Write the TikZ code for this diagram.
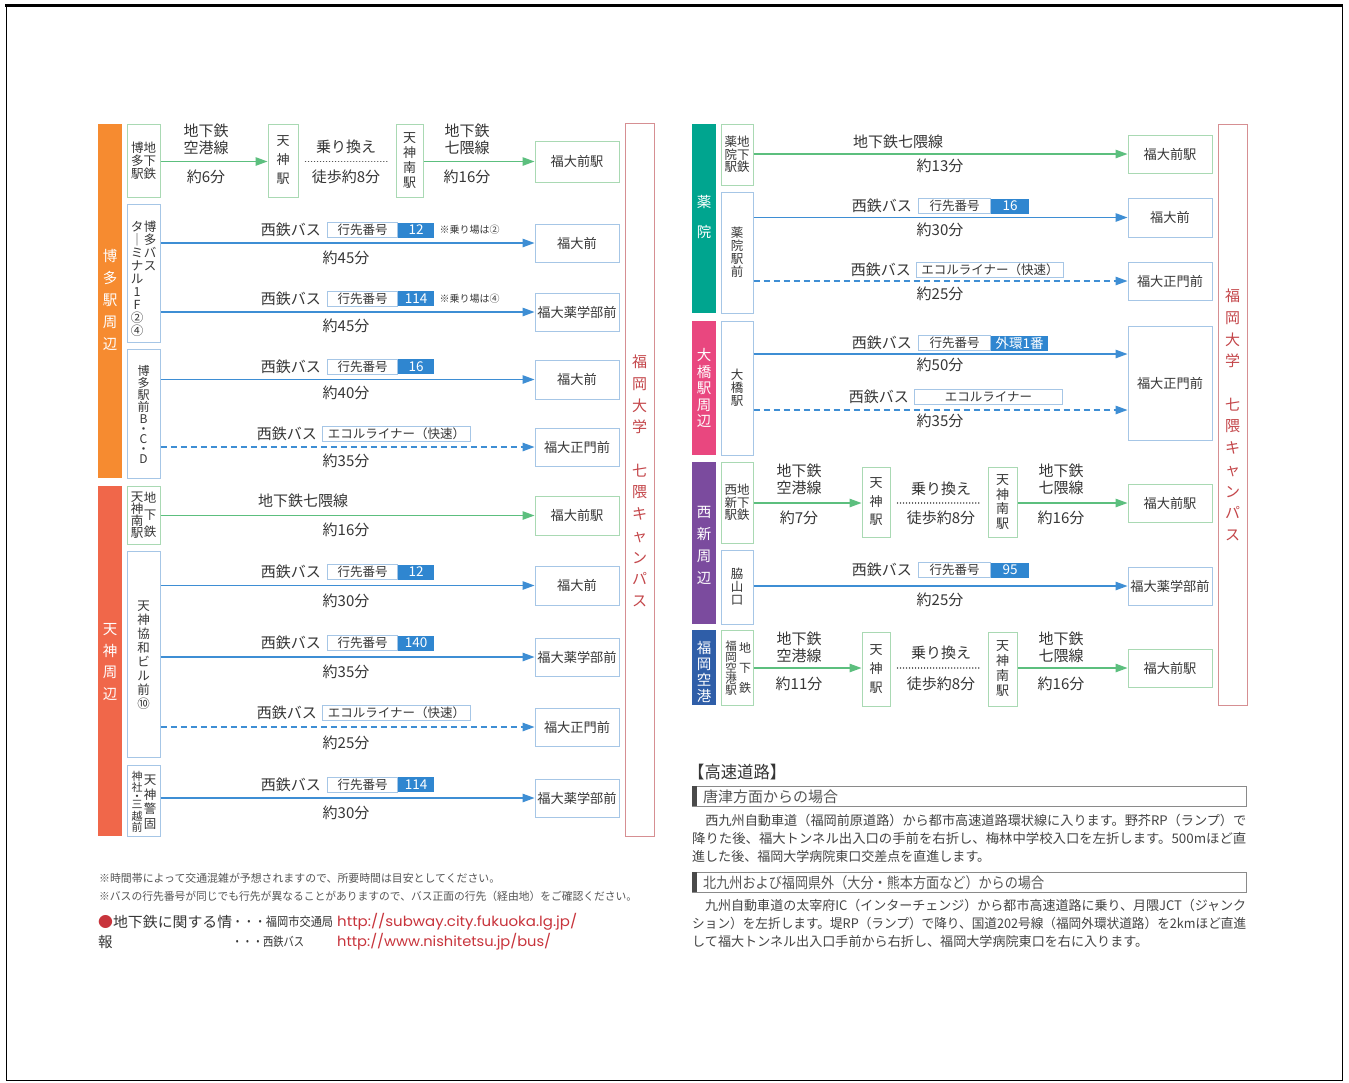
\documentclass[tikz,border=0pt]{standalone}
\usepackage{fontspec}
\usepackage{graphicx}
\setmainfont{Noto Sans CJK JP}
\newfontfamily\urlfont{Poppins}
\usetikzlibrary{arrows.meta,fit,positioning}
\newcommand\fsz[2]{\fontsize{#1}{#2}\selectfont}
\newcommand\fitw[2]{\resizebox{#1pt}{\height}{#2}}
\definecolor{txt}{HTML}{363636}
\definecolor{notegray}{HTML}{555555}
\definecolor{paragray}{HTML}{444444}
\definecolor{lgreen}{HTML}{A9D9B3}
\definecolor{agreen}{HTML}{5CBF7E}
\definecolor{lblue}{HTML}{A6C6E6}
\definecolor{ablue}{HTML}{3E8ED4}
\definecolor{bblue}{HTML}{2F86D0}
\definecolor{campus}{HTML}{D68F92}
\definecolor{campustxt}{HTML}{C4464A}
\definecolor{orangeA}{HTML}{F68B30}
\definecolor{orangeB}{HTML}{F0674A}
\definecolor{tealA}{HTML}{00A58F}
\definecolor{pinkA}{HTML}{E9477F}
\definecolor{purpleA}{HTML}{7B4B9E}
\definecolor{blueA}{HTML}{2F5EA8}
\definecolor{urlred}{HTML}{C8343C}
\definecolor{boxgray}{HTML}{8A8A8A}
\definecolor{bargray}{HTML}{4A4A4A}
\tikzset{
  every node/.style={text=txt, inner sep=0pt},
  gbox/.style={draw=lgreen, line width=1pt, fill=white},
  bbox/.style={draw=lblue, line width=1pt, fill=white},
  dtxt/.style={font=\fsz{13.2}{13.2}},
  band/.style={draw=none},
  bandtxt/.style={text=white, align=center},
  campusbar/.style={draw=campus, line width=1pt},
  camptxt/.style={text=campustxt, align=center, font=\fsz{15}{21.7}},
  garrow/.style={draw=agreen, line width=1.3pt, -{Triangle[length=12pt,width=8.5pt]}},
  barrow/.style={draw=ablue, line width=1.3pt, -{Triangle[length=12pt,width=8.5pt]}},
  darrow/.style={barrow, dash pattern=on 6pt off 4pt},
  walk/.style={draw=txt!85, line width=1.5pt, line cap=round, dash pattern=on 0.01pt off 3pt},
  lbl/.style={font=\fsz{15}{17}, align=center},
  vtx/.style={font=\fsz{12.5}{13}, align=center},
  badgeL/.style={draw=lblue, line width=1pt, fill=white, minimum width=70pt, minimum height=15pt, font=\fsz{12.5}{12.5}, anchor=west},
  badgeR/.style={fill=bblue, text=white, minimum height=15pt, font=\fsz{13.5}{13.5}, anchor=west},
  bnote/.style={font=\fsz{10}{10}, anchor=west},
  note/.style={anchor=west, text=notegray, font=\fsz{11}{11}},
  para/.style={anchor=west, text=paragray, font=\fsz{13.2}{13.2}},
}
% name, x-left, y, number, left width, number width
\newcommand\badge[6]{%
  \node[badgeL, minimum width=#5pt] (#1a) at (#2,#3) {行先番号};
  \node[badgeR, minimum width=#6pt] (#1b) at (#1a.east) {#4};
  \node[lbl, left=6pt of #1a] (#1s) {西鉄バス};
}
% name, x-left, width, y, text
\newcommand\eco[5]{%
  \node[badgeL, minimum width=#3pt] (#1a) at (#2,#4) {#5};
  \node[lbl, left=5pt of #1a] (#1s) {西鉄バス};
}
% destination: name, style, x1, y1, x2, y2, text
\newcommand\dest[7]{%
  \node[#2, fit={(#3,#4)(#5,#6)}] (#1) {};
  \node[dtxt] (#1t) at (#1.center) {#7};
}
\begin{document}
\begin{tikzpicture}[x=1pt,y=-1pt]
\useasboundingbox (0,0) rectangle (1349,1082);
\fill[white] (0,0) rectangle (1349,1082);
% outer frame
\draw[black, line width=1pt] (6,5) rectangle (1342,1080);
\draw[black, line width=3pt] (5,5) -- (1343,5);

% ================= LEFT PANEL =================
\node[band, fill=orangeA, fit={(98,124)(122,478)}] (bandH) {};
\node[bandtxt, font=\fsz{14.5}{22}] (bandHt) at (110,300) {博\\多\\駅\\周\\辺};
\node[band, fill=orangeB, fit={(98,486)(122,836)}] (bandT) {};
\node[bandtxt, font=\fsz{14.5}{21.7}] (bandTt) at (110,662) {天\\神\\周\\辺};

\node[campusbar, fit={(625,123)(654,836)}] (campL) {};
\node[camptxt] (campLt) at (639.5,481) {福\\岡\\大\\学\\[21.7pt]七\\隈\\キ\\ャ\\ン\\パ\\ス};

% origins
\node[gbox, fit={(127,124)(160,197)}] (o1) {};
\node[vtx] (o1t) at (o1.center) {博地\\多下\\駅鉄};
\node[bbox, fit={(127,204)(160,342)}] (o2) {};
\node[vtx, anchor=north] (o2r) at (150,221) {博\\多\\バ\\ス};
\node[vtx, anchor=north] (o2l) at (137,221) {タ\\｜\\ミ\\ナ\\ル\\1\\F\\②\\④};
\node[bbox, fit={(127,349)(160,478)}] (o3) {};
\node[vtx, font=\fsz{12}{12}] (o3t) at (143.5,414) {博\\多\\駅\\前\\B\\[-2pt]・\\[-2pt]C\\[-2pt]・\\[-2pt]D};
\node[gbox, fit={(127,486)(160,544)}] (o4) {};
\node[vtx, font=\fsz{12.5}{12}] (o4l) at (137,515) {天\\神\\南\\駅};
\node[vtx, font=\fsz{12.5}{17}] (o4r) at (150,515) {地\\下\\鉄};
\node[bbox, fit={(127,551)(160,757)}] (o5) {};
\node[vtx, font=\fsz{12.5}{14}] (o5t) at (143.5,655) {天\\神\\協\\和\\ビ\\ル\\前\\⑩};
\node[bbox, fit={(127,765)(160,836)}] (o6) {};
\node[vtx, font=\fsz{12.5}{14.5}] (o6r) at (150,802) {天\\神\\警\\固};
\node[vtx, font=\fsz{11}{11.5}] (o6l) at (137,802) {神\\社\\[-3pt]・\\[-3pt]三\\越\\前};

% destinations
\dest{d1}{gbox}{535}{141}{619}{182}{福大前駅}
\dest{d2}{bbox}{535}{224}{619}{262}{福大前}
\dest{d3}{bbox}{535}{293}{619}{331}{福大薬学部前}
\dest{d4}{bbox}{535}{360}{619}{399}{福大前}
\dest{d5}{bbox}{535}{428}{619}{466}{福大正門前}
\dest{d6}{gbox}{535}{496}{619}{535}{福大前駅}
\dest{d7}{bbox}{535}{566}{619}{605}{福大前}
\dest{d8}{bbox}{535}{638}{619}{676}{福大薬学部前}
\dest{d9}{bbox}{535}{708}{619}{746}{福大正門前}
\dest{d10}{bbox}{535}{779}{619}{817}{福大薬学部前}

% row 1 (subway with transfer)
\node[gbox, fit={(268,124)(298,197)}] (m1) {};
\node[vtx, font=\fsz{13}{19}] (m1t) at (m1.center) {天\\神\\駅};
\node[gbox, fit={(396,124)(423,197)}] (m2) {};
\node[vtx, font=\fsz{13}{15}] (m2t) at (m2.center) {天\\神\\南\\駅};
\draw[garrow] (o1.east |- d1.west) -- (m1.west |- d1.west);
\draw[walk, shorten <=7pt, shorten >=8pt] (m1.east |- d1.west) -- (m2.west |- d1.west);
\draw[garrow] (m2.east |- d1.west) -- (d1.west);
\node[lbl] (l1a) at (206,139.5) {地下鉄\\空港線};
\node[lbl] (l1b) at (206,177) {約6分};
\node[lbl] (l1c) at (346,147) {乗り換え};
\node[lbl] (l1d) at (346,177) {徒歩約8分};
\node[lbl] (l1e) at (467,139.5) {地下鉄\\七隈線};
\node[lbl] (l1f) at (467,177) {約16分};

% row 2
\draw[barrow] (o2.east |- d2.west) -- (d2.west);
\badge{bL2}{327}{230}{12}{70}{36}
\node[bnote] (bL2n) at ([xshift=5pt]bL2b.east) {※乗り場は②};
\node[lbl] (tL2) at (346,258) {約45分};
% row 3
\draw[barrow] (o2.east |- d3.west) -- (d3.west);
\badge{bL3}{327}{298.5}{114}{70}{36}
\node[bnote] (bL3n) at ([xshift=5pt]bL3b.east) {※乗り場は④};
\node[lbl] (tL3) at (346,326) {約45分};
% row 4
\draw[barrow] (o3.east |- d4.west) -- (d4.west);
\badge{bL4}{327}{366.5}{16}{70}{36}
\node[lbl] (tL4) at (346,393) {約40分};
% row 5
\draw[darrow] (o3.east |- d5.west) -- (d5.west);
\eco{bL5}{322}{148}{434}{エコルライナー（快速）}
\node[lbl] (tL5) at (346,461) {約35分};
% row 6
\draw[garrow] (o4.east |- d6.west) -- (d6.west);
\node[lbl] (lL6) at (303,501) {地下鉄七隈線};
\node[lbl] (tL6) at (346,530) {約16分};
% row 7
\draw[barrow] (o5.east |- d7.west) -- (d7.west);
\badge{bL7}{327}{572}{12}{70}{36}
\node[lbl] (tL7) at (346,601) {約30分};
% row 8
\draw[barrow] (o5.east |- d8.west) -- (d8.west);
\badge{bL8}{327}{643}{140}{70}{36}
\node[lbl] (tL8) at (346,672) {約35分};
% row 9
\draw[darrow] (o5.east |- d9.west) -- (d9.west);
\eco{bL9}{322}{148}{713}{エコルライナー（快速）}
\node[lbl] (tL9) at (346,743) {約25分};
% row 10
\draw[barrow] (o6.east |- d10.west) -- (d10.west);
\badge{bL10}{327}{784.5}{114}{70}{36}
\node[lbl] (tL10) at (346,813) {約30分};

% ================= RIGHT PANEL =================
\node[band, fill=tealA, fit={(692,124)(716,313)}] (bandY) {};
\node[bandtxt, font=\fsz{14.5}{30}] (bandYt) at (704,217) {薬\\院};
\node[band, fill=pinkA, fit={(692,321)(716,455)}] (bandO) {};
\node[bandtxt, font=\fsz{14.5}{16.5}] (bandOt) at (704,388) {大\\橋\\駅\\周\\辺};
\node[band, fill=purpleA, fit={(692,462)(716,624)}] (bandN) {};
\node[bandtxt, font=\fsz{14.5}{22}] (bandNt) at (704,545) {西\\新\\周\\辺};
\node[band, fill=blueA, fit={(692,630)(716,705)}] (bandA) {};
\node[bandtxt, font=\fsz{14.5}{16}] (bandAt) at (704,672) {福\\岡\\空\\港};

\node[campusbar, fit={(1218,124)(1247,705)}] (campR) {};
\node[camptxt] (campRt) at (1232.5,415) {福\\岡\\大\\学\\[21.7pt]七\\隈\\キ\\ャ\\ン\\パ\\ス};

% origins
\node[gbox, fit={(721,124)(753,185)}] (p1) {};
\node[vtx, font=\fsz{12.5}{12.5}] (p1t) at (p1.center) {薬地\\院下\\駅鉄};
\node[bbox, fit={(721,192)(753,313)}] (p2) {};
\node[vtx] (p2t) at (737,252) {薬\\院\\駅\\前};
\node[bbox, fit={(721,321)(753,455)}] (p3) {};
\node[vtx] (p3t) at (737,388) {大\\橋\\駅};
\node[gbox, fit={(721,462)(753,543)}] (p4) {};
\node[vtx, font=\fsz{12.5}{12.5}] (p4t) at (p4.center) {西地\\新下\\駅鉄};
\node[bbox, fit={(721,550)(753,624)}] (p5) {};
\node[vtx] (p5t) at (737,587) {脇\\山\\口};
\node[gbox, fit={(721,630)(753,705)}] (p6) {};
\node[vtx, font=\fsz{11.5}{11}] (p6l) at (731,668) {福\\岡\\空\\港\\駅};
\node[vtx, font=\fsz{12}{20}] (p6r) at (745,668) {地\\下\\鉄};

% destinations
\dest{q1}{gbox}{1128}{135}{1212}{173}{福大前駅}
\dest{q2}{bbox}{1128}{198}{1212}{237}{福大前}
\dest{q3}{bbox}{1128}{262}{1212}{300}{福大正門前}
\dest{q4}{bbox}{1128}{326}{1212}{440}{福大正門前}
\dest{q5}{gbox}{1128}{484}{1212}{522}{福大前駅}
\dest{q6}{bbox}{1128}{567}{1212}{605}{福大薬学部前}
\dest{q7}{gbox}{1128}{649}{1212}{687}{福大前駅}

% R1
\draw[garrow] (p1.east |- q1.west) -- (q1.west);
\node[lbl] (lR1) at (898,142) {地下鉄七隈線};
\node[lbl] (tR1) at (940,166) {約13分};
% R2
\draw[barrow] (p2.east |- q2.west) -- (q2.west);
\badge{bR2}{918}{206}{16}{72}{38}
\node[lbl] (tR2) at (940,230) {約30分};
% R3
\draw[darrow] (p2.east |- q3.west) -- (q3.west);
\eco{bR3}{916}{147}{270}{エコルライナー（快速）}
\node[lbl] (tR3) at (940,294) {約25分};
% R4
\coordinate (yR4) at (0,354);
\draw[barrow] (p3.east |- yR4) -- (q4.west |- yR4);
\badge{bR4}{918}{343}{外環1番}{72}{57}
\node[lbl] (tR4) at (940,365) {約50分};
% R5
\coordinate (yR5) at (0,410);
\draw[darrow] (p3.east |- yR5) -- (q4.west |- yR5);
\eco{bR5}{914}{148}{397}{エコルライナー}
\node[lbl] (tR5) at (940,421) {約35分};
% R6 (Nishijin subway)
\node[gbox, fit={(862,467)(890,537)}] (n1) {};
\node[vtx, font=\fsz{13}{18.5}] (n1t) at (n1.center) {天\\神\\駅};
\node[gbox, fit={(988,467)(1017,537)}] (n2) {};
\node[vtx, font=\fsz{13}{14.5}] (n2t) at (n2.center) {天\\神\\南\\駅};
\draw[garrow] (p4.east |- q5.west) -- (n1.west |- q5.west);
\draw[walk, shorten <=7pt, shorten >=8pt] (n1.east |- q5.west) -- (n2.west |- q5.west);
\draw[garrow] (n2.east |- q5.west) -- (q5.west);
\node[lbl] (l6a) at (799,479.5) {地下鉄\\空港線};
\node[lbl] (l6b) at (799,518) {約7分};
\node[lbl] (l6c) at (941,489) {乗り換え};
\node[lbl] (l6d) at (941,518) {徒歩約8分};
\node[lbl] (l6e) at (1061,479.5) {地下鉄\\七隈線};
\node[lbl] (l6f) at (1061,518) {約16分};
% R7
\draw[barrow] (p5.east |- q6.west) -- (q6.west);
\badge{bR7}{918}{570}{95}{72}{38}
\node[lbl] (tR7) at (940,600) {約25分};
% R8 (airport)
\node[gbox, fit={(862,632)(890,706)}] (n3) {};
\node[vtx, font=\fsz{13}{19}] (n3t) at (n3.center) {天\\神\\駅};
\node[gbox, fit={(988,632)(1017,706)}] (n4) {};
\node[vtx, font=\fsz{13}{15}] (n4t) at (n4.center) {天\\神\\南\\駅};
\draw[garrow] (p6.east |- q7.west) -- (n3.west |- q7.west);
\draw[walk, shorten <=7pt, shorten >=8pt] (n3.east |- q7.west) -- (n4.west |- q7.west);
\draw[garrow] (n4.east |- q7.west) -- (q7.west);
\node[lbl] (l8a) at (799,647.5) {地下鉄\\空港線};
\node[lbl] (l8b) at (799,684) {約11分};
\node[lbl] (l8c) at (941,653) {乗り換え};
\node[lbl] (l8d) at (941,684) {徒歩約8分};
\node[lbl] (l8e) at (1061,647.5) {地下鉄\\七隈線};
\node[lbl] (l8f) at (1061,684) {約16分};

% ================= NOTES (left bottom) =================
\node[note] (nt1) at (99,878) {\fitw{401}{※時間帯によって交通混雑が予想されますので、所要時間は目安としてください。}};
\node[note] (nt2) at (99,896) {\fitw{538}{※バスの行先番号が同じでも行先が異なることがありますので、バス正面の行先（経由地）をご確認ください。}};
\node[anchor=west, font=\fsz{14.5}{14.5}] (inf1) at (98,922) {\fitw{134}{\textcolor{urlred}{●}地下鉄に関する情}};
\node[anchor=west, font=\fsz{12.5}{12.5}] (inf2) at (232,922) {\fitw{101}{・・・福岡市交通局}};
\node[anchor=west, font=\urlfont\fsz{14}{14}, text=urlred] (inf3) at (337,922) {\fitw{240}{http://subway.city.fukuoka.lg.jp/}};
\node[anchor=west, font=\fsz{14.5}{14.5}] (inf4) at (98,942) {報};
\node[anchor=west, font=\fsz{12.5}{12.5}] (inf5) at (232,942) {\fitw{72}{・・・西鉄バス}};
\node[anchor=west, font=\urlfont\fsz{14}{14}, text=urlred] (inf6) at (337,942) {\fitw{214}{http://www.nishitetsu.jp/bus/}};

% ================= EXPRESSWAY (right bottom) =================
\node[anchor=west, font=\fsz{17}{17}] (hw) at (688,772) {\fitw{98}{【高速道路】}};
\node[draw=boxgray, line width=0.9pt, fit={(692,786)(1246,806)}] (k1) {};
\node[fill=bargray, fit={(692,786)(697,806)}] (k1b) {};
\node[anchor=west, text=notegray, font=\fsz{15}{15}] (k1t) at (703,796.5) {\fitw{135}{唐津方面からの場合}};
\node[para] (pa1) at (692,820) {\fitw{554}{　西九州自動車道（福岡前原道路）から都市高速道路環状線に入ります。野芥RP（ランプ）で}};
\node[para] (pa2) at (692,838) {\fitw{554}{降りた後、福大トンネル出入口の手前を右折し、梅林中学校入口を左折します。500mほど直}};
\node[para] (pa3) at (692,856) {\fitw{298}{進した後、福岡大学病院東口交差点を直進します。}};
\node[draw=boxgray, line width=0.9pt, fit={(692,872)(1246,892)}] (k2) {};
\node[fill=bargray, fit={(692,872)(697,892)}] (k2b) {};
\node[anchor=west, text=notegray, font=\fsz{15}{15}] (k2t) at (703,882.5) {\fitw{341}{北九州および福岡県外（大分・熊本方面など）からの場合}};
\node[para] (pb1) at (692,905) {\fitw{554}{　九州自動車道の太宰府IC（インターチェンジ）から都市高速道路に乗り、月隈JCT（ジャンク}};
\node[para] (pb2) at (692,923) {\fitw{554}{ション）を左折します。堤RP（ランプ）で降り、国道202号線（福岡外環状道路）を2kmほど直進}};
\node[para] (pb3) at (692,941) {\fitw{456}{して福大トンネル出入口手前から右折し、福岡大学病院東口を右に入ります。}};
\end{tikzpicture}
\end{document}
